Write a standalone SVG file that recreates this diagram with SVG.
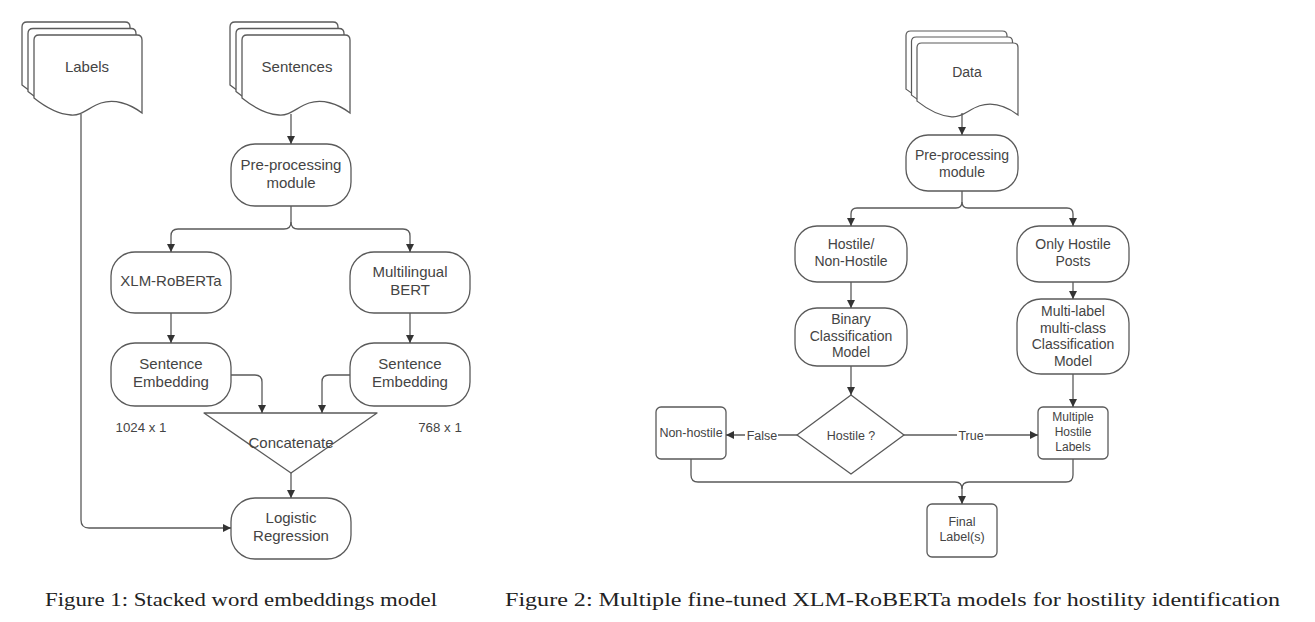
<svg xmlns="http://www.w3.org/2000/svg" xmlns:xlink="http://www.w3.org/1999/xlink" width="1315" height="622" viewBox="0 0 1315 622">
<defs>
<style>
.n{fill:#fff;stroke:#5a5a5a;stroke-width:1.3}
.c{fill:none;stroke:#5a5a5a;stroke-width:1.3}
.t{font-family:"Liberation Sans",Arial,sans-serif;fill:#444;text-anchor:middle}
.t15{font-size:15px}
.t14{font-size:14px}
.t12{font-size:12.5px}
.cap{font-family:"Liberation Serif","Times New Roman",serif;font-size:19.5px;fill:#222}
.lbl{font-family:"Liberation Sans",Arial,sans-serif;font-size:13px;fill:#444;text-anchor:middle}
</style>
<marker id="ah" viewBox="0 0 10 10" refX="10" refY="5" markerWidth="8.5" markerHeight="8" markerUnits="userSpaceOnUse" orient="auto">
<path d="M0,0 L10,5 L0,10 z" fill="#333"/>
</marker>
<path id="doc" d="M0,5 Q0,0 5,0 H103 Q108,0 108,5 V78 C95,68 80,64 67,68 C55,72 48,81 37,80 C22,79 10,71 0,63 Z"/>
</defs>
<rect width="1315" height="622" fill="#fff"/>

<!-- Figure 1 -->
<g id="labels">
<use xlink:href="#doc" class="n" x="22" y="22"/>
<use xlink:href="#doc" class="n" x="28" y="28.5"/>
<use xlink:href="#doc" class="n" x="34" y="35"/>
<text class="t t15" x="87" y="72">Labels</text>
</g>
<g id="sentences">
<use xlink:href="#doc" class="n" x="230" y="22"/>
<use xlink:href="#doc" class="n" x="236" y="28.5"/>
<use xlink:href="#doc" class="n" x="242" y="35"/>
<text class="t t15" x="297" y="72">Sentences</text>
</g>
<g id="preproc1">
<rect class="n" x="231" y="144" width="120" height="62" rx="24" ry="24"/>
<text class="t t15" x="291" y="170">Pre-processing</text>
<text class="t t15" x="291" y="188">module</text>
</g>
<g id="xlmr">
<rect class="n" x="111" y="252" width="120" height="61" rx="24" ry="24"/>
<text class="t t15" x="171" y="286">XLM-RoBERTa</text>
</g>
<g id="mbert">
<rect class="n" x="350" y="252" width="120" height="61" rx="24" ry="24"/>
<text class="t t15" x="410" y="277">Multilingual</text>
<text class="t t15" x="410" y="295">BERT</text>
</g>
<g id="se1">
<rect class="n" x="111" y="343" width="120" height="63" rx="24" ry="24"/>
<text class="t t15" x="171" y="369">Sentence</text>
<text class="t t15" x="171" y="387">Embedding</text>
</g>
<g id="se2">
<rect class="n" x="350" y="343" width="120" height="63" rx="24" ry="24"/>
<text class="t t15" x="410" y="369">Sentence</text>
<text class="t t15" x="410" y="387">Embedding</text>
</g>
<g id="concat">
<path class="n" d="M204,413 H377 L291,473 Z" stroke-linejoin="round"/>
<text class="t t15" x="291" y="448">Concatenate</text>
</g>
<g id="logreg">
<rect class="n" x="231" y="498" width="120" height="61" rx="24" ry="24"/>
<text class="t t15" x="291" y="523">Logistic</text>
<text class="t t15" x="291" y="541">Regression</text>
</g>
<text class="t" style="font-size:13.3px" x="141" y="432">1024 x 1</text>
<text class="t" style="font-size:13.3px" x="440" y="432">768 x 1</text>

<g id="connectors1">
<path class="c" d="M81,114 V520 Q81,528 89,528 H231" marker-end="url(#ah)"/>
<path class="c" d="M291,114 V144" marker-end="url(#ah)"/>
<path class="c" d="M291,206 V222 Q291,229 284,229 H178 Q171,229 171,236 V252" marker-end="url(#ah)"/>
<path class="c" d="M291,222 Q291,229 298,229 H403 Q410,229 410,236 V252" marker-end="url(#ah)"/>
<path class="c" d="M171,313 V343" marker-end="url(#ah)"/>
<path class="c" d="M410,313 V343" marker-end="url(#ah)"/>
<path class="c" d="M231,375 H255 Q262,375 262,382 V413" marker-end="url(#ah)"/>
<path class="c" d="M350,375 H329 Q322,375 322,382 V413" marker-end="url(#ah)"/>
<path class="c" d="M291,473 V498" marker-end="url(#ah)"/>
</g>

<text class="cap" x="45" y="606" textLength="392" lengthAdjust="spacingAndGlyphs">Figure 1:  Stacked word embeddings model</text>

<!-- Figure 2 -->
<g id="data">
<use xlink:href="#doc" class="n" transform="translate(906,31) scale(0.935,0.923)" vector-effect="non-scaling-stroke"/>
<use xlink:href="#doc" class="n" transform="translate(911.5,37) scale(0.935,0.923)"/>
<use xlink:href="#doc" class="n" transform="translate(917,43) scale(0.935,0.923)"/>
<text class="t t14" x="967" y="77">Data</text>
</g>
<g id="preproc2">
<rect class="n" x="906" y="135" width="112" height="56" rx="22" ry="22"/>
<text class="t t14" x="962" y="160">Pre-processing</text>
<text class="t t14" x="962" y="177">module</text>
</g>
<g id="hnh">
<rect class="n" x="795" y="226" width="112" height="56" rx="22" ry="22"/>
<text class="t t14" x="851" y="249">Hostile/</text>
<text class="t t14" x="851" y="266">Non-Hostile</text>
</g>
<g id="ohp">
<rect class="n" x="1017" y="226" width="112" height="56" rx="22" ry="22"/>
<text class="t t14" x="1073" y="249">Only Hostile</text>
<text class="t t14" x="1073" y="266">Posts</text>
</g>
<g id="binary">
<rect class="n" x="795" y="308" width="112" height="58" rx="22" ry="22"/>
<text class="t t14" x="851" y="324">Binary</text>
<text class="t t14" x="851" y="341">Classification</text>
<text class="t t14" x="851" y="357">Model</text>
</g>
<g id="multi">
<rect class="n" x="1017" y="299" width="112" height="75" rx="24" ry="24"/>
<text class="t t14" x="1073" y="316">Multi-label</text>
<text class="t t14" x="1073" y="333">multi-class</text>
<text class="t t14" x="1073" y="349">Classification</text>
<text class="t t14" x="1073" y="366">Model</text>
</g>
<g id="hostileq">
<path class="n" d="M851,395 L904,435 L851,474 L797,435 Z" stroke-linejoin="round"/>
<text class="t t12" x="851" y="439.5">Hostile ?</text>
</g>
<g id="nonhostile">
<rect class="n" x="656" y="407" width="70" height="52" rx="5" ry="5"/>
<text class="t t12" x="691" y="436.5">Non-hostile</text>
</g>
<g id="mhl">
<rect class="n" x="1038" y="407" width="70" height="52" rx="5" ry="5"/>
<text class="t" style="font-size:12px" x="1073" y="421">Multiple</text>
<text class="t" style="font-size:12px" x="1073" y="436">Hostile</text>
<text class="t" style="font-size:12px" x="1073" y="451">Labels</text>
</g>
<g id="final">
<rect class="n" x="927" y="504" width="70" height="53" rx="5" ry="5"/>
<text class="t t12" x="962" y="526">Final</text>
<text class="t t12" x="962" y="541">Label(s)</text>
</g>

<g id="connectors2">
<path class="c" d="M962,113 V135" marker-end="url(#ah)"/>
<path class="c" d="M962,191 V202 Q962,208 956,208 H857 Q851,208 851,214 V226" marker-end="url(#ah)"/>
<path class="c" d="M962,202 Q962,208 968,208 H1067 Q1073,208 1073,214 V226" marker-end="url(#ah)"/>
<path class="c" d="M851,282 V308" marker-end="url(#ah)"/>
<path class="c" d="M1073,282 V299" marker-end="url(#ah)"/>
<path class="c" d="M851,366 V395" marker-end="url(#ah)"/>
<path class="c" d="M1073,374 V407" marker-end="url(#ah)"/>
<path class="c" d="M797,435 H726" marker-end="url(#ah)"/>
<path class="c" d="M904,435 H1038" marker-end="url(#ah)"/>
<path class="c" d="M691,459 V475 Q691,482 698,482 H955 Q962,482 962,489 V504" marker-end="url(#ah)"/>
<path class="c" d="M1073,459 V475 Q1073,482 1066,482 H969 Q962,482 962,489"/>
<rect x="745" y="427" width="33" height="16" fill="#fff"/>
<text class="t t12" x="762" y="439.5">False</text>
<rect x="957" y="427" width="28" height="16" fill="#fff"/>
<text class="t t12" x="971" y="439.5">True</text>
</g>

<text class="cap" x="505" y="606" textLength="775" lengthAdjust="spacingAndGlyphs">Figure 2:  Multiple fine-tuned XLM-RoBERTa models for hostility identification</text>
</svg>
